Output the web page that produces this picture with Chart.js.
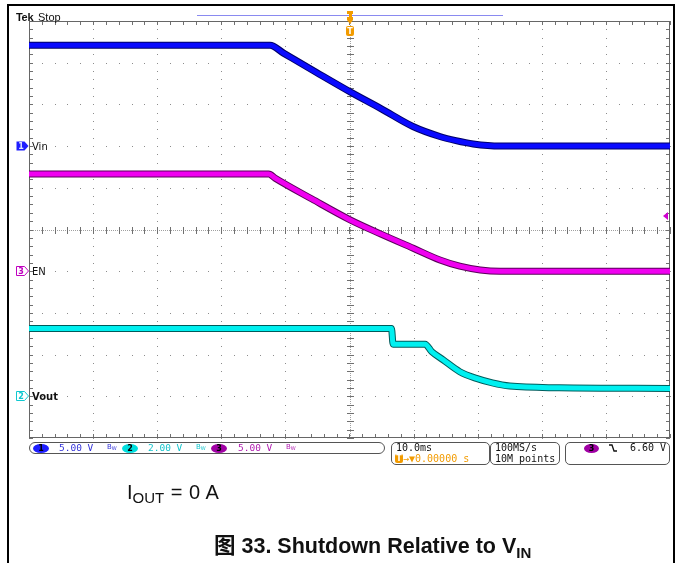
<!DOCTYPE html>
<html>
<head>
<meta charset="utf-8">
<title>Shutdown Relative to VIN</title>
<script src="https://cdn.jsdelivr.net/npm/chart.js@4/dist/chart.umd.min.js"></script>
<style>
  html, body { margin: 0; padding: 0; background: #fff; overflow: hidden; }
  #wrap { position: relative; width: 682px; height: 563px; }
  #scope { position: absolute; left: 0; top: 0; }
  .t { position: absolute; white-space: pre; line-height: 1; }
  .mono { font-family: "DejaVu Sans Mono", monospace; font-size: 10px; }
  .box { position: absolute; border: 1px solid #555; border-radius: 5px; box-sizing: border-box; }
  .pill { position: absolute; height: 9px; width: 16px; border-radius: 50%; font: bold 8px "DejaVu Sans", sans-serif;
          color: #000; text-align: center; line-height: 9px; }
  .bw { position: absolute; font: 7px "DejaVu Sans", sans-serif; line-height: 1; }
  .bw sub { font-size: 5px; vertical-align: -1px; }
</style>
</head>
<body>
<div id="wrap">
  <canvas id="scope" width="682" height="563"></canvas>

  <!-- header -->
  <div class="t" style="left:16px;top:11px;font:bold 11px 'Liberation Sans',Arial,sans-serif;color:#111;letter-spacing:-0.3px">Tek</div>
  <div class="t" style="left:38px;top:11px;font:11px 'Liberation Sans',Arial,sans-serif;color:#111">Stop</div>

  <!-- channel readout bar -->
  <div class="box" style="left:29px;top:442px;width:356px;height:12px;border-radius:6px"></div>
  <div class="pill" style="left:33px;top:443.5px;background:#1e1eff">1</div>
  <div class="t mono" style="left:59px;top:443px;font-size:9.5px;color:#3232d8">5.00 V</div>
  <div class="bw" style="left:107px;top:444px;color:#3232d8">B<sub>W</sub></div>
  <div class="pill" style="left:122px;top:443.5px;background:#00dede">2</div>
  <div class="t mono" style="left:148px;top:443px;font-size:9.5px;color:#16c4cc">2.00 V</div>
  <div class="bw" style="left:196px;top:444px;color:#16c4cc">B<sub>W</sub></div>
  <div class="pill" style="left:211px;top:443.5px;background:#a000a4">3</div>
  <div class="t mono" style="left:238px;top:443px;font-size:9.5px;color:#b01cb0">5.00 V</div>
  <div class="bw" style="left:286px;top:444px;color:#b01cb0">B<sub>W</sub></div>

  <!-- horizontal / acquisition / trigger readouts -->
  <div class="box" style="left:391px;top:442px;width:99px;height:23px"></div>
  <div class="t mono" style="left:396px;top:443px;color:#111">10.0ms</div>
  <div class="t" style="left:395px;top:454px;width:8px;height:9px;background:#f29b00;border-radius:2px;color:#fff;font:bold 8px 'DejaVu Sans',sans-serif;text-align:center;line-height:9px">T</div>
  <div class="t mono" style="left:403px;top:454px;color:#f29b00">→▼0.00000 s</div>

  <div class="box" style="left:490px;top:442px;width:70px;height:23px"></div>
  <div class="t mono" style="left:495px;top:443px;color:#111">100MS/s</div>
  <div class="t mono" style="left:495px;top:454px;color:#111">10M points</div>

  <div class="box" style="left:565px;top:442px;width:105px;height:23px"></div>
  <div class="pill" style="left:584px;top:443.5px;width:15px;background:#a000a4">3</div>
  <svg style="position:absolute;left:609px;top:444px" width="8" height="9"><polyline points="0,1 3,1 5,7 8,7" fill="none" stroke="#111" stroke-width="1.3"/></svg>
  <div class="t mono" style="left:630px;top:443px;color:#111">6.60 V</div>

  <!-- captions -->
  <div class="t" style="left:127px;top:481px;font:20px 'Liberation Sans',Arial,sans-serif;color:#111;word-spacing:1px">I<span style="font-size:15px;position:relative;top:4px">OUT</span> = 0 A</div>
  <div class="t" style="left:214px;top:528px;font:bold 21.5px 'Liberation Sans','Noto Sans CJK SC',Arial,sans-serif;color:#111">图 33. Shutdown Relative to V<span style="font-size:15px;position:relative;top:5px">IN</span></div>
</div>

<script>
// Horizontal setup: 10 divisions, 10 ms/div, trigger in the centre
const timePerDiv = 10;
const horizontalDivs = 10;
const verticalDivs = 10;

// Channels: name, volts per division, ground level (divisions above centre)
const channelNames = ['Vin', 'Vout', 'EN'];
const channelNumbers = ['1', '2', '3'];
const voltsPerDiv = [5, 2, 5];
const groundDiv = [2, -4, -1];
const traceColors = ['#0a0aff', '#00f0f0', '#f000f0'];
const edgeColors = ['#00006a', '#005c5c', '#5a005a'];

// Channel 1: input voltage (ms, V)
const vinTime  = [-50, -12.4, -10.3, -5.2, 0.1, 4.9, 9.9, 14.1, 16.6, 19.3, 23.5, 50];
const vinVolts = [12.1, 12.1, 11.15, 8.85, 6.5, 4.5, 2.35, 1.15, 0.65, 0.25, 0, 0];

// Channel 2: output voltage (ms, V)
const voutTime  = [-50, 6.55, 6.8, 11.8, 12.8, 14.6, 17.2, 19.8, 22.3, 25.0, 32.7, 50];
const voutVolts = [3.25, 3.25, 2.5, 2.5, 2.15, 1.75, 1.18, 0.86, 0.64, 0.49, 0.41, 0.38];

// Channel 3: enable pin (ms, V)
const enTime  = [-50, -12.6, -11.6, -5.85, 0.1, 4.9, 9.95, 14.1, 17.2, 20.4, 23.5, 50];
const enVolts = [11.65, 11.65, 11.15, 8.65, 6.15, 4.45, 2.75, 1.35, 0.6, 0.15, 0, 0];

// Trigger: channel 3, falling edge
const triggerChannel = 2;
const triggerLevel = 6.6;

const traces = [
  { time: vinTime, volts: vinVolts, ch: 0 },
  { time: voutTime, volts: voutVolts, ch: 1 },
  { time: enTime, volts: enVolts, ch: 2 }
];
const axisIds = ['y1', 'y2', 'y3'];

function points(tr) {
  return tr.time.map((t, i) => ({ x: t, y: tr.volts[i] }));
}

const datasets = [];
traces.forEach(tr => {
  const base = {
    data: points(tr), yAxisID: axisIds[tr.ch], pointRadius: 0,
    cubicInterpolationMode: 'monotone', clip: 0, borderCapStyle: 'butt', borderJoinStyle: 'round'
  };
  datasets.push(Object.assign({}, base, { label: channelNames[tr.ch], borderColor: traceColors[tr.ch], borderWidth: 5, order: 0 }));
  datasets.push(Object.assign({}, base, { label: channelNames[tr.ch] + ' edge', borderColor: edgeColors[tr.ch], borderWidth: 7, order: 1 }));
});

const scales = {
  x: { type: 'linear', display: false,
       min: -timePerDiv * horizontalDivs / 2, max: timePerDiv * horizontalDivs / 2 }
};
axisIds.forEach((id, c) => {
  scales[id] = { type: 'linear', display: false,
    min: (-verticalDivs / 2 - groundDiv[c]) * voltsPerDiv[c],
    max: (verticalDivs / 2 - groundDiv[c]) * voltsPerDiv[c] };
});

// Dotted graticule, centre cross-hair and frame ticks
const graticule = {
  id: 'graticule',
  beforeDatasetsDraw(chart) {
    const { ctx, chartArea: a } = chart;
    const dx = (a.right - a.left) / horizontalDivs;
    const dy = (a.bottom - a.top) / verticalDivs;
    const cx = a.left + dx * horizontalDivs / 2;
    const cy = a.top + dy * verticalDivs / 2;
    ctx.save();
    ctx.fillStyle = '#8c8c8c';
    for (let i = 1; i < horizontalDivs; i++) {
      if (i === horizontalDivs / 2) continue;
      const x = Math.round(a.left + i * dx);
      for (let j = 0; j <= verticalDivs * 5; j++) {
        ctx.fillRect(x, Math.round(a.top + j * dy / 5), 1, 1);
      }
    }
    for (let j = 1; j < verticalDivs; j++) {
      if (j === verticalDivs / 2) continue;
      const y = Math.round(a.top + j * dy);
      for (let i = 0; i <= horizontalDivs * 5; i++) {
        ctx.fillRect(Math.round(a.left + i * dx / 5), y, 1, 1);
      }
    }
    // centre cross-hair
    ctx.fillStyle = '#a0a0a0';
    for (let y = a.top; y < a.bottom; y += 2) ctx.fillRect(Math.round(cx), y, 1, 1);
    for (let x = a.left; x < a.right; x += 2) ctx.fillRect(x, Math.round(cy), 1, 1);
    ctx.fillStyle = '#707070';
    for (let j = 0; j <= verticalDivs * 5; j++) {
      const y = Math.round(a.top + j * dy / 5);
      ctx.fillRect(Math.round(cx) - 3, y, 7, 1);
      ctx.fillRect(a.left, y, 4, 1);
      ctx.fillRect(a.right - 4, y, 4, 1);
    }
    for (let i = 0; i <= horizontalDivs * 5; i++) {
      const x = Math.round(a.left + i * dx / 5);
      ctx.fillRect(x, Math.round(cy) - 3, 1, 7);
      ctx.fillRect(x, a.top, 1, 4);
      ctx.fillRect(x, a.bottom - 4, 1, 4);
    }
    ctx.strokeStyle = '#666';
    ctx.lineWidth = 1;
    ctx.strokeRect(a.left + 0.5, a.top + 0.5, a.right - a.left - 1, a.bottom - a.top - 1);
    ctx.restore();
  }
};

// Ground markers, labels, trigger markers, record bar and page frame
const annotations = {
  id: 'annotations',
  afterDraw(chart) {
    const { ctx } = chart;
    ctx.save();
    // channel ground markers and names
    [0, 2, 1].forEach(c => {
      const y = Math.round(chart.scales[axisIds[c]].getPixelForValue(0));
      const col = c === 0 ? '#1e1eff' : (c === 1 ? '#10c8d0' : '#c000c0');
      ctx.beginPath();
      ctx.moveTo(16.5, y - 4.5); ctx.lineTo(24.5, y - 4.5); ctx.lineTo(28.5, y);
      ctx.lineTo(24.5, y + 4.5); ctx.lineTo(16.5, y + 4.5); ctx.closePath();
      if (c === 0) { ctx.fillStyle = col; ctx.fill(); }
      else { ctx.fillStyle = '#fff'; ctx.fill(); ctx.strokeStyle = col; ctx.lineWidth = 1; ctx.stroke(); }
      ctx.fillStyle = c === 0 ? '#dfe6ff' : col;
      ctx.font = 'bold 8px "DejaVu Sans", sans-serif';
      ctx.textAlign = 'center'; ctx.textBaseline = 'middle';
      ctx.fillText(channelNumbers[c], 21, y + 0.5);
      ctx.fillStyle = '#111';
      ctx.font = (c === 1 ? 'bold ' : '') + '10px "DejaVu Sans", sans-serif';
      ctx.textAlign = 'left';
      ctx.fillText(channelNames[c], 32, y + 1);
    });
    // trigger level arrow on the right edge
    const ty = Math.round(chart.scales[axisIds[triggerChannel]].getPixelForValue(triggerLevel));
    ctx.fillStyle = '#d000d0';
    ctx.beginPath();
    ctx.moveTo(663, ty); ctx.lineTo(668, ty - 4); ctx.lineTo(668, ty + 4); ctx.closePath(); ctx.fill();
    // record view bar
    ctx.fillStyle = '#8a8af0';
    ctx.fillRect(197, 15, 306, 1);
    // trigger position markers
    const tx = Math.round(chart.scales.x.getPixelForValue(0));
    ctx.fillStyle = '#f29b00';
    ctx.fillRect(tx - 3, 11, 6, 3);
    ctx.fillRect(tx - 1, 13, 3, 5);
    ctx.fillRect(tx - 3, 17, 6, 3);
    ctx.beginPath(); ctx.moveTo(tx - 3, 20); ctx.lineTo(tx + 3, 20); ctx.lineTo(tx, 24); ctx.closePath(); ctx.fill();
    ctx.beginPath();
    ctx.roundRect(tx - 4, 26, 8, 10, 2); ctx.fill();
    ctx.fillStyle = '#fff';
    ctx.font = 'bold 8px "DejaVu Sans", sans-serif';
    ctx.textAlign = 'center'; ctx.textBaseline = 'middle';
    ctx.fillText('T', tx, 31.5);
    // page frame
    ctx.fillStyle = '#000';
    ctx.fillRect(7, 4, 668, 2);
    ctx.fillRect(7, 4, 2, 559);
    ctx.fillRect(673, 4, 2, 559);
    ctx.restore();
  }
};

new Chart(document.getElementById('scope'), {
  type: 'line',
  data: { datasets },
  options: {
    responsive: false,
    devicePixelRatio: 1,
    animation: false,
    events: [],
    layout: { padding: { left: 29, top: 21, right: 12, bottom: 125 } },
    scales,
    plugins: { legend: { display: false }, tooltip: { enabled: false } }
  },
  plugins: [graticule, annotations]
});
</script>
</body>
</html>
